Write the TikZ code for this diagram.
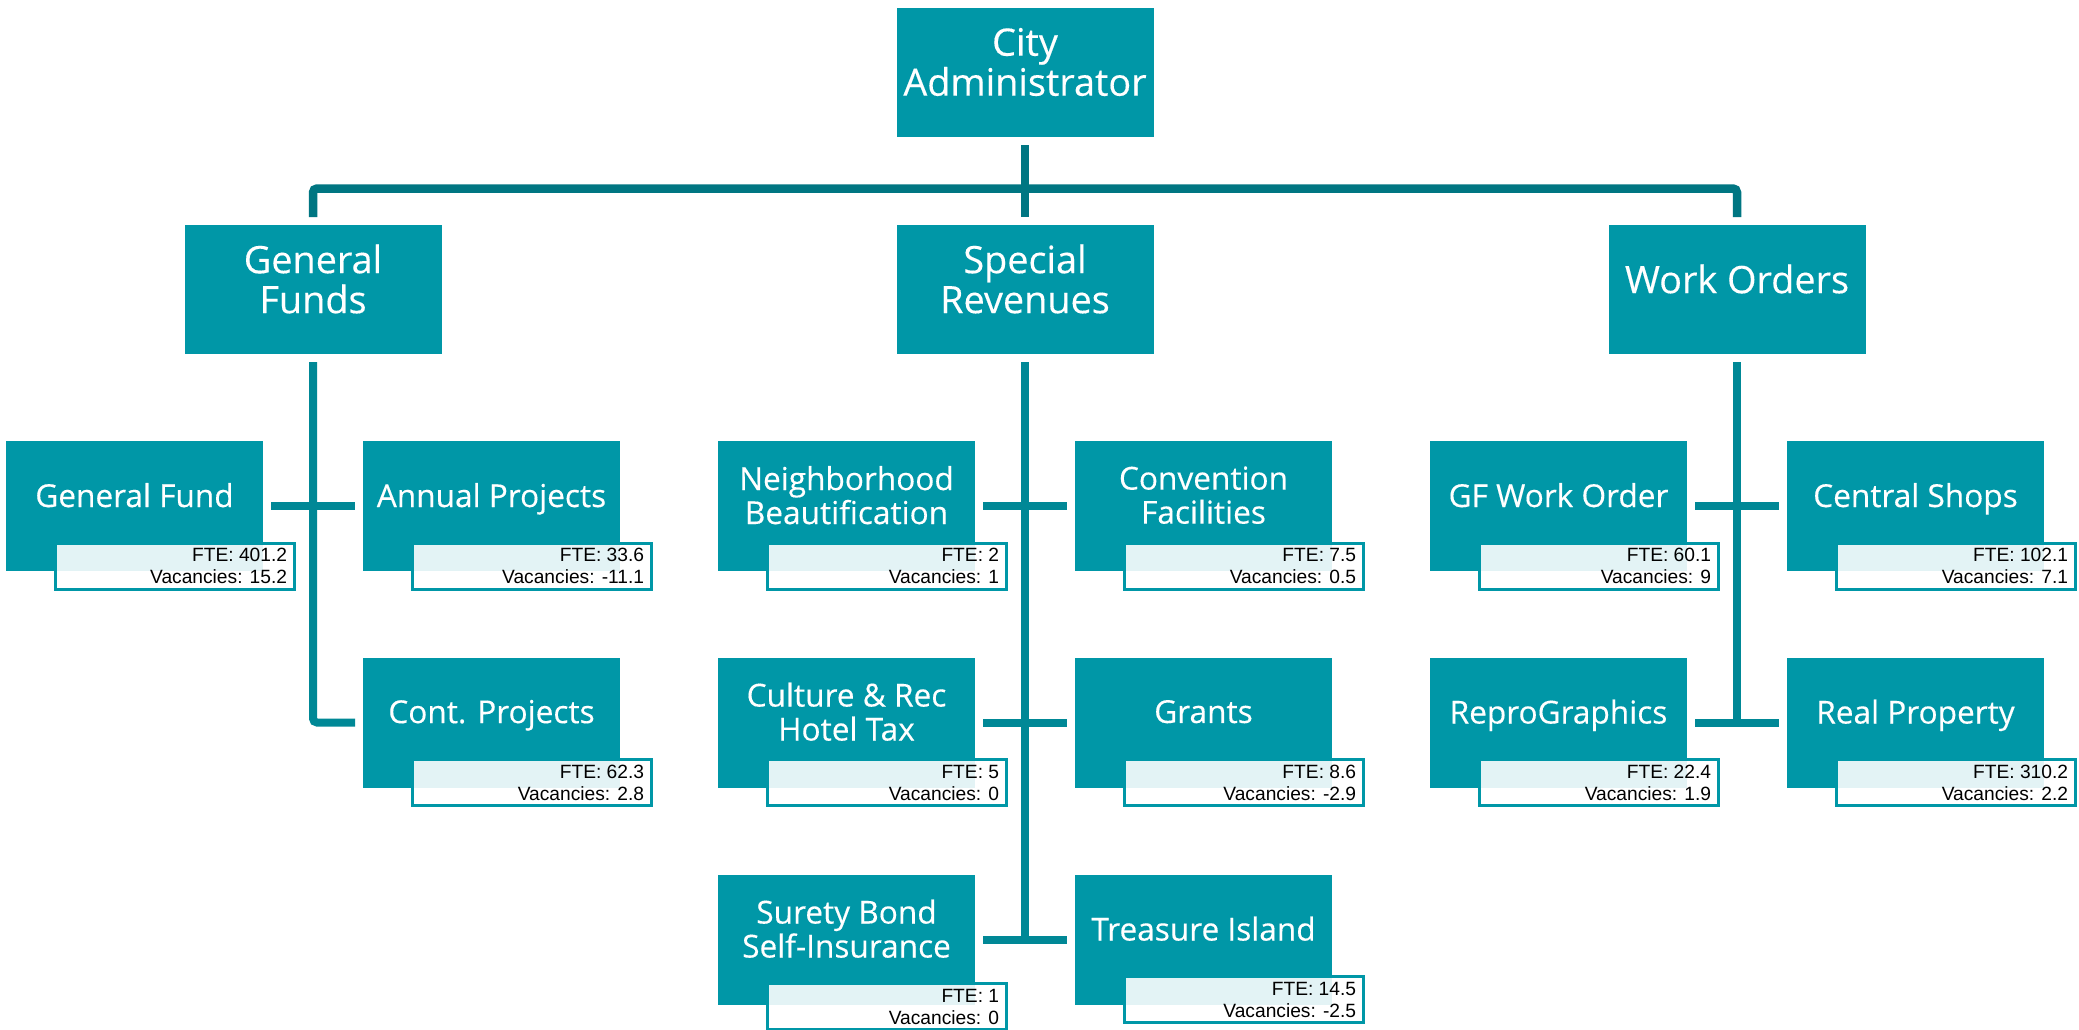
\documentclass[tikz,border=0pt]{standalone}
\usepackage{fontspec}
\setmainfont{Liberation Sans}
\newfontfamily\titlefont[UprightFeatures={FakeBold=0.3}]{Open Sans}
\newfontfamily\infofont{Liberation Sans}
\definecolor{boxfill}{HTML}{0097A7}
\definecolor{topline}{HTML}{007682}
\definecolor{subline}{HTML}{008896}
\tikzset{
  unitbox/.style={rectangle, fill=boxfill, draw=none, inner sep=0pt, outer sep=0pt,
    minimum width=128.5pt, minimum height=65pt},
  headbox/.style={unitbox, minimum height=64.5pt},
  headtitle/.style={text=white, align=center, inner sep=0pt,
    font=\titlefont\fontsize{18.9}{20}\selectfont},
  unittitle/.style={text=white, align=center, inner sep=0pt,
    font=\titlefont\fontsize{15.8}{17}\selectfont,
    execute at begin node={\vphantom{Ag}}, execute at end node={\vphantom{Ag}}},
  infobox/.style={rectangle, draw=boxfill, line width=1.5pt, fill=white, fill opacity=0.89,
    draw opacity=1, inner sep=0pt, outer sep=0pt, minimum width=119.5pt, minimum height=23pt},
  infotext/.style={inner sep=0pt, text=black, font=\infofont\fontsize{9.6}{11}\selectfont},
  topconn/.style={draw=topline, line width=4.25pt},
  conn/.style={draw=subline, line width=4pt},
}
\newcommand\orgunit[7]{%
  \node[unitbox] (#1) at (#2,#3) {};
  \node[unittitle] (#1-t) at ([yshift=-28.9pt]#1.north) {#4};
  \node[infobox, anchor=north west] (#1-i) at ([xshift=24.75pt,yshift=#7]#1.south west) {};
  \node[infotext, anchor=base east] (#1-f) at ([xshift=-3.5pt,yshift=-9.4pt]#1-i.north east) {FTE: #5};
  \node[infotext, anchor=base east] (#1-v) at ([xshift=-3.5pt,yshift=-20.4pt]#1-i.north east) {Vacancies: #6};
}
\begin{document}
\begin{tikzpicture}[x=0.5pt,y=-0.5pt]
\useasboundingbox (0,0) rectangle (2079,1029);
\clip (0,0) rectangle (2079,1029);
\fill[white] (0,0) rectangle (2079,1029);

% top level
\node[headbox] (city) at (1025,72.5) {};
\node[headtitle] (city-t) at ([yshift=-27pt]city.north) {City\\Administrator};
\node[headbox] (gf) at (313,289.5) {};
\node[headtitle] (gf-t) at ([yshift=-27pt]gf.north) {General\\Funds};
\node[headbox] (sr) at (1025,289.5) {};
\node[headtitle] (sr-t) at ([yshift=-27pt]sr.north) {Special\\Revenues};
\node[headbox] (wo) at (1737,289.5) {};
\node[headtitle] (wo-t) at ([yshift=-27pt]wo.north) {Work Orders};

\coordinate (bar) at (1025,188.5);
\draw[topconn] ([yshift=-4pt]city.south) -- ([yshift=4pt]sr.north);
\draw[topconn, rounded corners=2pt] ([yshift=4pt]gf.north) |- (bar) -| ([yshift=4pt]wo.north);

% units
\orgunit{gfund}{134.5}{506}{General Fund}{401.2}{15.2}{14pt}
\orgunit{annual}{491.5}{506}{Annual Projects}{33.6}{-11.1}{14pt}
\orgunit{cont}{491.5}{722.5}{Cont. Projects}{62.3}{2.8}{14pt}

\orgunit{nb}{846.5}{506}{Neighborhood\\Beautification}{2}{1}{14pt}
\orgunit{conv}{1203.5}{506}{Convention\\Facilities}{7.5}{0.5}{14pt}
\orgunit{cult}{846.5}{722.5}{Culture \& Rec\\Hotel Tax}{5}{0}{14pt}
\orgunit{grants}{1203.5}{722.5}{Grants}{8.6}{-2.9}{14pt}
\orgunit{surety}{846.5}{939.5}{Surety Bond\\Self-Insurance}{1}{0}{10.5pt}
\orgunit{treas}{1203.5}{939.5}{Treasure Island}{14.5}{-2.5}{14pt}

\orgunit{gfwo}{1558.5}{506}{GF Work Order}{60.1}{9}{14pt}
\orgunit{cshops}{1915.5}{506}{Central Shops}{102.1}{7.1}{14pt}
\orgunit{repro}{1558.5}{722.5}{ReproGraphics}{22.4}{1.9}{14pt}
\orgunit{realp}{1915.5}{722.5}{Real Property}{310.2}{2.2}{14pt}

% General Funds connectors
\draw[conn, rounded corners=2pt] ([yshift=-4pt]gf.south) |- ([xshift=-4pt]cont.west);
\draw[conn] ([xshift=4pt]gfund.east) -- ([xshift=-4pt]annual.west);

% Special Revenues connectors
\draw[conn] ([yshift=-4pt]sr.south) -- (sr.south |- surety.east);
\draw[conn] ([xshift=4pt]nb.east) -- ([xshift=-4pt]conv.west);
\draw[conn] ([xshift=4pt]cult.east) -- ([xshift=-4pt]grants.west);
\draw[conn] ([xshift=4pt]surety.east) -- ([xshift=-4pt]treas.west);

% Work Orders connectors
\draw[conn] ([yshift=-4pt]wo.south) -- (wo.south |- repro.east);
\draw[conn] ([xshift=4pt]gfwo.east) -- ([xshift=-4pt]cshops.west);
\draw[conn] ([xshift=4pt]repro.east) -- ([xshift=-4pt]realp.west);
\end{tikzpicture}
\end{document}
